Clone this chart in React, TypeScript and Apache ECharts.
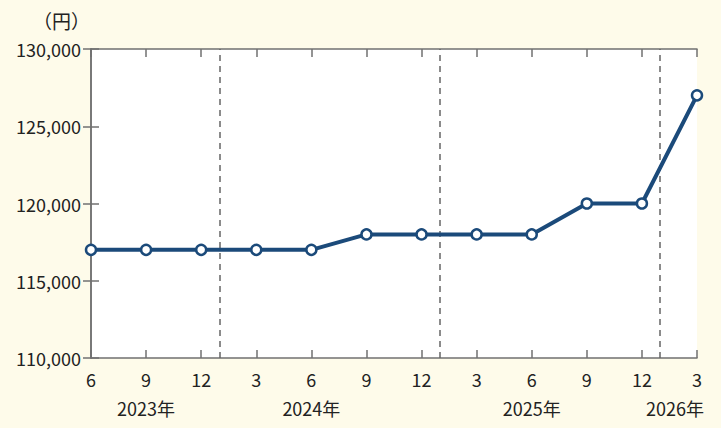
import React, { useEffect, useRef } from "react";
import * as echarts from "echarts";

const months = ["6", "9", "12", "3", "6", "9", "12", "3", "6", "9", "12", "3"];
const prices = [117000, 117000, 117000, 117000, 117000, 118000, 118000, 118000, 118000, 120000, 120000, 127000];
const yearLabels = ["2023年", "2024年", "2025年", "2026年"];
const yearLabelPos = [1, 4, 8, 10.6];
const yearBreaks = [2 + 1 / 3, 6 + 1 / 3, 10 + 1 / 3];
const yTicks = [110000, 115000, 120000, 125000, 130000];

const FONT = "'Noto Sans CJK JP', 'Noto Sans', sans-serif";
const AXIS_COLOR = "#707070";
const LINE_COLOR = "#1b4a7a";

export default function App() {
  const ref = useRef<HTMLDivElement>(null);
  useEffect(() => {
    if (!ref.current) return;
    const chart = echarts.init(ref.current, null, { renderer: "svg" });
    const xBase = {
      type: "value" as const,
      min: 0,
      max: months.length - 1,
      interval: 1,
      splitLine: { show: false },
      axisLine: { show: true, lineStyle: { color: AXIS_COLOR, width: 1.5 } },
      axisTick: { show: true, inside: true, length: 8, lineStyle: { color: AXIS_COLOR, width: 1.5 } },
    };
    const yBase = {
      type: "value" as const,
      min: yTicks[0],
      max: yTicks[yTicks.length - 1],
      interval: 5000,
      splitLine: { show: false },
      axisLine: { show: true, lineStyle: { color: AXIS_COLOR, width: 1.5 } },
      axisTick: { show: true, inside: true, length: 8, lineStyle: { color: AXIS_COLOR, width: 1.5 } },
    };
    chart.setOption({
      animation: false,
      backgroundColor: "#fefbea",
      grid: { left: 91, right: 24, top: 49, bottom: 70, show: true, backgroundColor: "#ffffff", borderWidth: 0 },
      xAxis: [
        {
          ...xBase,
          position: "bottom",
          axisLabel: {
            formatter: (v: number) => months[Math.round(v)] ?? "",
            fontSize: 18,
            color: "#222",
            fontFamily: FONT,
            margin: 12,
          },
        },
        { ...xBase, position: "top", axisLabel: { show: false } },
      ],
      yAxis: [
        {
          ...yBase,
          position: "left",
          axisLabel: {
            formatter: (v: number) => v.toLocaleString("en-US"),
            fontSize: 18,
            color: "#222",
            fontFamily: FONT,
            margin: 10,
          },
        },
        { ...yBase, position: "right", axisLabel: { show: false } },
      ],
      series: [
        {
          type: "line",
          data: prices.map((p, i) => [i, p]),
          clip: false,
          symbol: "circle",
          symbolSize: 10,
          lineStyle: { color: LINE_COLOR, width: 4 },
          itemStyle: { color: "#ffffff", borderColor: LINE_COLOR, borderWidth: 2.5 },
          z: 5,
          markLine: {
            silent: true,
            symbol: "none",
            label: { show: false },
            lineStyle: { color: "#666", type: [6, 5], width: 1.5 },
            data: yearBreaks.map((x) => ({ xAxis: x })),
            z: 1,
          },
        },
      ],
    });
    const yLab = 408;
    chart.setOption({
      graphic: [
        {
          type: "text",
          left: 33,
          top: 11,
          style: { text: "（円）", fill: "#222", font: `19px ${FONT}` },
        },
        ...yearLabels.map((t, i) => {
          const px = chart.convertToPixel({ xAxisIndex: 0 }, yearLabelPos[i]) as number;
          return {
            type: "text",
            x: px,
            y: yLab,
            style: {
              text: t,
              fill: "#222",
              font: `18px ${FONT}`,
              align: "center",
              verticalAlign: "middle",
            },
          };
        }),
      ],
    });
    return () => chart.dispose();
  }, []);
  return <div ref={ref} style={{ position: "fixed", left: 0, top: 0, width: 721, height: 428 }} />;
}
